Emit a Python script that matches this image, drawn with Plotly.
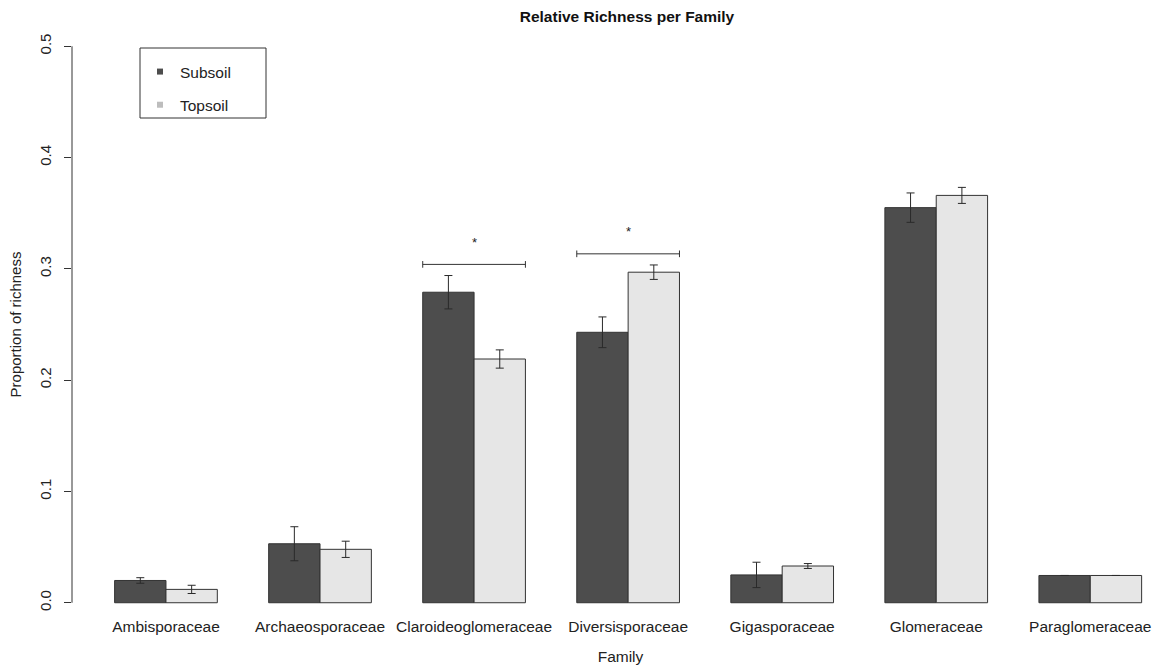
import plotly.graph_objects as go

# Mean proportion of richness per family, with standard errors
families = ["Ambisporaceae", "Archaeosporaceae", "Claroideoglomeraceae",
            "Diversisporaceae", "Gigasporaceae", "Glomeraceae", "Paraglomeraceae"]
subsoil = [0.020, 0.053, 0.279, 0.243, 0.025, 0.355, 0.0245]
topsoil = [0.012, 0.048, 0.219, 0.297, 0.033, 0.366, 0.0245]
subsoil_se = [0.0025, 0.0153, 0.015, 0.0138, 0.0114, 0.0132, None]
topsoil_se = [0.0037, 0.0073, 0.0082, 0.0065, 0.0022, 0.0072, None]
significant = ["Claroideoglomeraceae", "Diversisporaceae"]
y_ticks = [0.0, 0.1, 0.2, 0.3, 0.4, 0.5]

FONT = "Liberation Sans, Arial, Helvetica, sans-serif"
DARK = "#4d4d4d"
LIGHT = "#e6e6e6"
EDGE = "#333333"

fig = go.Figure()

for name, vals, errs, fill in [("Subsoil", subsoil, subsoil_se, DARK),
                               ("Topsoil", topsoil, topsoil_se, LIGHT)]:
    fig.add_trace(go.Bar(
        x=families, y=vals, name=name, showlegend=False,
        marker=dict(color=fill, line=dict(color=EDGE, width=1)),
        error_y=dict(type="data", array=errs, visible=True,
                     color="#2a2a2a", thickness=1, width=4),
    ))

# small square keys for the legend
for name, col in [("Subsoil", DARK), ("Topsoil", "#bdbdbd")]:
    fig.add_trace(go.Scatter(
        x=[None], y=[None], mode="markers", name=name, legendgroup=name,
        marker=dict(symbol="square", size=6, color=col),
    ))

shapes = []
annotations = []

# significance brackets with stars
for fam in significant:
    i = families.index(fam)
    top = max(subsoil[i] + (subsoil_se[i] or 0), topsoil[i] + (topsoil_se[i] or 0))
    yb = top + 0.01
    x0, x1 = i - 1 / 3, i + 1 / 3
    line = dict(color=EDGE, width=1)
    shapes.append(dict(type="line", xref="x", yref="y", x0=x0, x1=x1, y0=yb, y1=yb, line=line))
    for xe in (x0, x1):
        shapes.append(dict(type="line", xref="x", yref="y", x0=xe, x1=xe,
                           y0=yb - 0.003, y1=yb + 0.003, line=line))
    annotations.append(dict(x=i, y=yb + 0.02, xref="x", yref="y", text="*",
                            showarrow=False, font=dict(size=13, color="#222")))

# y axis line spanning the tick range only
shapes.append(dict(type="line", xref="paper", yref="y", x0=0, x1=0,
                   y0=y_ticks[0], y1=y_ticks[-1], line=dict(color=EDGE, width=1)))

# legend frame
shapes.append(dict(type="rect", xref="paper", yref="paper",
                   x0=(140 - 72) / 1097, x1=(266 - 72) / 1097,
                   y0=(625 - 118) / 601, y1=(625 - 48) / 601,
                   line=dict(color=EDGE, width=1), fillcolor="rgba(0,0,0,0)"))

fig.update_layout(
    width=1169, height=667,
    margin=dict(l=72, r=0, t=24, b=42),
    paper_bgcolor="white", plot_bgcolor="white",
    font=dict(family=FONT, size=15.5, color="#222"),
    barmode="group", bargap=1 / 3, bargroupgap=0,
    title=dict(text="<b>Relative Richness per Family</b>", x=627 / 1169, xanchor="center",
               y=1 - 17 / 667, yanchor="middle", font=dict(size=15.5, color="#111")),
    showlegend=True,
    legend=dict(x=(140 - 72) / 1097, y=(625 - 55) / 601, xanchor="left", yanchor="top",
                bgcolor="rgba(0,0,0,0)", borderwidth=0, font=dict(size=15.5),
                tracegroupgap=10, traceorder="grouped"),
    shapes=shapes, annotations=annotations,
)

fig.update_xaxes(
    type="category", range=[-0.61, 6.511], showgrid=False, zeroline=False, showline=False,
    ticks="", tickfont=dict(size=15.5), ticklabelstandoff=-10,
    title=dict(text="Family", font=dict(size=15.5), standoff=17),
)
fig.update_yaxes(
    range=[-0.02, 0.52], showgrid=False, zeroline=False, showline=False,
    tickvals=y_ticks, ticktext=[f"{v:.1f}" for v in y_ticks],
    ticks="outside", ticklen=7, tickcolor=EDGE, tickangle=-90,
    tickfont=dict(size=15), ticklabelstandoff=7,
    title=dict(text="Proportion of richness", font=dict(size=15), standoff=11),
)

fig.write_html("out.html")
